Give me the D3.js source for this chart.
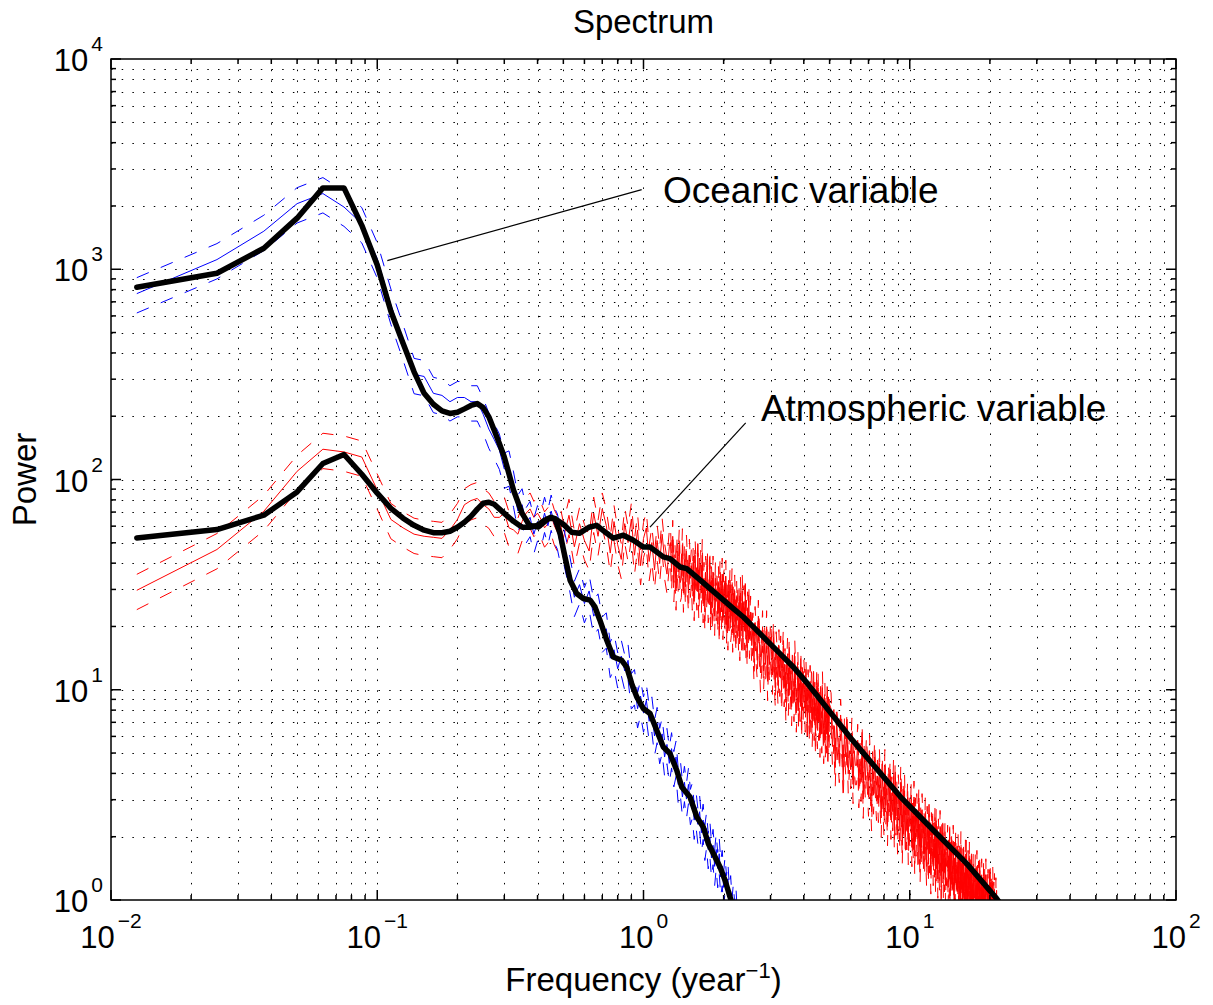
<!DOCTYPE html>
<html>
<head>
<meta charset="utf-8">
<script src="https://cdn.jsdelivr.net/npm/d3@7"></script>
<style>
  body { margin: 0; background: #fff; }
  svg text { font-family: "Liberation Sans", Arial, Helvetica, sans-serif; fill: #000; }
</style>
</head>
<body>
<svg id="chart" width="1213" height="1005"></svg>
<script>
const freqStep = 0.0125; // spectral resolution, 1/80 year^-1

// smoothed spectra (thick black lines): frequency in year^-1, power as log10
const oceSmoothF = [0.0125,0.025,0.0375,0.05,0.0625,0.075,0.0875,0.1,0.1125,0.125,0.1375,0.15,0.1625,0.175,0.1875,0.2,0.2125,0.225,0.2375,0.25,0.2625,0.275,0.2875,0.3,
  0.325,0.35,0.373,0.403,0.439,0.465,0.486,0.507,0.53,0.561,0.594,0.63,0.657,0.686,0.728,0.77,0.828,0.865,0.903,0.943,
  0.998,1.058,1.121,1.187,1.257,1.333,1.392,1.495,1.585,1.677,1.752,1.829,1.938,2.024,2.113,2.25];
const oceSmoothP = [2.914,2.981,3.100,3.243,3.387,3.387,3.209,3.02,2.80,2.648,2.512,2.410,2.358,2.326,2.314,2.320,2.336,2.352,2.361,2.342,2.298,2.234,2.171,2.107,
  1.949,1.839,1.782,1.774,1.814,1.814,1.743,1.632,1.521,1.458,1.434,1.426,1.394,1.331,1.235,1.156,1.140,1.108,1.029,0.966,
  0.911,0.887,0.807,0.728,0.697,0.617,0.538,0.490,0.395,0.347,0.268,0.221,0.157,0.094,0.015,-0.09];

const atmSmoothF = [0.0125,0.025,0.0375,0.05,0.0625,0.075,0.0875,0.1,0.1125,0.125,0.1375,0.15,0.1625,0.175,0.1875,0.2,0.2125,0.225,0.2375,0.25,0.2625,0.275,
  0.3,0.325,0.35,0.375,0.4,0.425,0.45,0.475,0.5,0.537,0.574,0.624,0.667,0.728,0.77,0.84,0.916,0.998,1.058,
  1.187,1.257,1.371,1.453,1.585,1.778,1.938,2.175,2.371,2.585,2.902,3.256,3.654,4.102,4.407,5.966,9.19,12.26,16.37,21.2,25];
const atmSmoothP = [1.722,1.762,1.830,1.941,2.076,2.119,2.025,1.935,1.863,1.816,1.782,1.759,1.747,1.747,1.754,1.773,1.797,1.825,1.859,1.887,1.892,1.882,
  1.839,1.801,1.773,1.773,1.782,1.806,1.820,1.806,1.787,1.749,1.744,1.773,1.782,1.744,1.721,1.735,1.711,1.679,1.679,
  1.632,1.624,1.584,1.576,1.536,1.481,1.441,1.386,1.346,1.299,1.235,1.172,1.108,1.034,0.985,0.774,0.493,0.332,0.173,0.007,-0.12];

// raw periodograms (thin lines), log10 power on the k * freqStep grid
const oceRawLo = [2.884,3.046,3.181,3.312,3.360,3.296,3.217,3.05,2.83,2.66, 2.50,2.49,2.41,2.40,2.37,2.39,2.39,2.37,2.37,2.31,
  2.24,2.19,2.14,2.05,2.06,1.96,1.85,1.88,1.79,1.82, 1.74,1.80,1.77,1.84,1.78,1.85,1.79,1.76,1.69,1.70]; // k = 1..40
const oceRawMid = [1.58,1.44,1.50,1.41,1.47,1.35,1.38,1.27,1.29,1.15, 1.19,1.10,1.16,1.09,1.14,1.00,1.02,0.91,0.97,0.89,
  0.95,0.85,0.89,0.78,0.84,0.74,0.79,0.68,0.74,0.65, 0.72,0.63,0.68,0.55,0.59,0.49,0.56,0.48,0.55,0.45,
  0.48,0.38,0.44,0.36,0.42,0.32,0.38,0.28,0.34,0.24, 0.30,0.20,0.26,0.16,0.24,0.15,0.22,0.11,0.16,0.06,
  0.13,0.04,0.10,-0.01,0.04,-0.07,0.00,-0.09,-0.02,-0.13]; // k = 42..180 by 2

const atmRawLo = [1.473,1.667,1.849,2.039,2.144,2.131,2.107,1.95,1.81,1.77, 1.74,1.73,1.725,1.72,1.76,1.81,1.88,1.90,1.91,1.88,
  1.86,1.82,1.82,1.84,1.77,1.76,1.74,1.80,1.84,1.86, 1.82,1.84,1.81,1.77,1.79,1.83,1.78,1.75,1.79,1.72]; // k = 1..40
const atmRawMid = [1.83,1.68,1.79,1.71, 1.66,1.84,1.73,1.86, 1.78,1.65,1.80,1.69, 1.62,1.79,1.70,1.81, 1.64,1.76,1.59,1.72,
  1.77,1.61,1.70,1.57, 1.71,1.60,1.74,1.62, 1.55,1.68]; // k = 42..100 by 2
const atmRawMid2 = [1.70,1.56,1.73,1.51,1.62,1.47,1.66,1.56,1.69,1.51, 1.53,1.69,1.46,1.62,1.49,1.66,1.55,1.46,1.64,1.53,
  1.59,1.47,1.61,1.42,1.64,1.53,1.47,1.65,1.43,1.58, 1.60,1.46,1.64,1.41,1.53,1.37,1.56,1.47,1.59,1.41,
  1.44,1.59,1.36,1.52,1.39,1.56,1.45,1.35,1.53,1.42, 1.48,1.36,1.51,1.31,1.54,1.43,1.37,1.55,1.33,1.48,
  1.50,1.36,1.54,1.31,1.43,1.28,1.47,1.37,1.50,1.32, 1.35,1.50,1.27,1.43,1.30,1.47,1.36,1.27,1.44,1.33,
  1.40,1.28,1.42,1.23,1.46,1.35,1.28,1.47,1.25,1.40, 1.42,1.28,1.46,1.24,1.35,1.20,1.39,1.30,1.42,1.24]; // k = 101..200
const atmRawHiA = [1.37,1.21,1.29,1.13,1.32,1.21,1.14,1.35,1.23,1.08, 1.17,1.30,1.09,1.22,1.12,1.30,1.04,1.22,1.12,1.25,
  1.18,1.07,1.25,1.11,1.01,1.20,1.12,1.02,1.21,1.06, 1.18,0.99,1.10,1.21,1.01,1.12,0.94,1.05,1.17,0.97,
  1.17,1.00,1.09,0.92,1.12,1.01,0.94,1.16,1.03,0.89, 0.98,1.11,0.90,1.03,0.94,1.11,0.86,1.03,0.94,1.07,
  1.00,0.89,1.07,0.93,0.84,1.02,0.95,0.84,1.04,0.89, 1.01,0.82,0.94,1.04,0.85,0.96,0.78,0.89,1.02,0.81,
  1.01,0.85,0.93,0.77,0.97,0.86,0.79,1.01,0.88,0.74, 0.83,0.96,0.76,0.88,0.79,0.97,0.72,0.89,0.80,0.93]; // k = 202..400 by 2
const atmRawHiB = [0.91,0.73,0.83,0.63,0.85,0.75,0.65,0.88,0.76,0.57,0.80,0.68,0.82,0.60,0.71,0.62,0.79,0.55,0.71,0.64,
  0.64,0.76,0.53,0.67,0.56,0.76,0.48,0.68,0.57,0.70,0.61,0.49,0.71,0.56,0.42,0.63,0.50,0.68,0.57,0.47,
  0.59,0.46,0.65,0.50,0.39,0.61,0.51,0.40,0.64,0.45,0.53,0.35,0.57,0.47,0.59,0.38,0.51,0.42,0.59,0.33,
  0.58,0.40,0.50,0.31,0.52,0.43,0.33,0.56,0.45,0.26,0.49,0.37,0.52,0.30,0.41,0.33,0.49,0.26,0.43,0.35,
  0.36,0.48,0.25,0.40,0.28,0.49,0.21,0.41,0.30,0.43,0.34,0.23,0.46,0.30,0.17,0.38,0.25,0.43,0.33,0.22,
  0.35,0.22,0.41,0.26,0.16,0.37,0.28,0.17,0.41,0.22,0.30,0.12,0.34,0.25,0.36,0.16,0.29,0.20,0.37,0.12,
  0.36,0.18,0.29,0.10,0.31,0.22,0.13,0.35,0.24,0.06,0.29,0.17,0.32,0.10,0.22,0.13,0.30,0.07,0.23,0.16,
  0.17,0.28,0.06,0.21,0.10,0.30,0.02,0.23,0.12,0.25,0.16,0.05,0.28,0.12,-0.01,0.20,0.08,0.25,0.15,0.05,
  0.18,0.04,0.24,0.09,-0.02,0.20,0.11,0.00,0.25,0.05,0.13,-0.04,0.18,0.08,0.20,0.00,0.13,0.04,0.21,-0.04,
  0.21,0.03,0.13,-0.06,0.16,0.07,-0.03,0.20,0.09,-0.09,0.13,0.02,0.17,-0.05,0.07,-0.02,0.15,-0.08,0.09,0.01,
  0.02,0.14,-0.08,0.07,-0.05,0.16,-0.12,0.09,-0.03,0.11,0.02,-0.09,0.14,-0.02,-0.15,0.06,-0.06,0.12,0.01,-0.09,
  0.04,-0.09,0.11,-0.05,-0.15,0.07,-0.02,-0.13,0.12,-0.08,0.00,-0.17,0.05,-0.04,0.07,-0.13,0.00,-0.08,0.09,-0.17,
  0.08,-0.10,0.01,-0.18,0.04,-0.06,-0.15,0.08,-0.03,-0.21,0.01,-0.10,0.05,-0.17,-0.05,-0.14,0.03,-0.20,-0.03,-0.10]; // k = 405..1700 by 5

// dashed confidence lines sit at fixed log10 offsets from the raw periodogram
const ciUpper = 0.076, ciLower = -0.092;

const xDomain = [1e-2, 1e2], yDomain = [1, 1e4];

const annoText = ["Oceanic variable", "Atmospheric variable"];
const annoAt = [[1.184, 2066], [2.76, 190]];
const annoFrom = [[0.1091, 1100], [1.058, 59.4]];
const annoTo = [[0.9845, 2393], [2.42, 186]];

let svg = d3.select("#chart");

let x = d3.scaleLog().domain(xDomain).range([111, 1176]),
y = d3.scaleLog().domain(yDomain).range([900, 59]);

let [x0, x1] = x.range(), [y0, y1] = y.range();

function isMajor(v) {
  let l = Math.log10(v);
  return Math.abs(l - Math.round(l)) < 1e-6;
}

function rawSeries(vals, k0, dk) {
  return vals.map((v, i) => ({ f: (k0 + i * dk) * freqStep, lp: v }));
}

function smoothSeries(fs, ps) {
  return fs.map((f, i) => ({ f: f, lp: ps[i] }));
}

let atmRaw = [].concat(rawSeries(atmRawLo, 1, 1), rawSeries(atmRawMid, 42, 2), rawSeries(atmRawMid2, 101, 1),
  rawSeries(atmRawHiA, 202, 2), rawSeries(atmRawHiB, 405, 5)),
oceRaw = [].concat(rawSeries(oceRawLo, 1, 1), rawSeries(oceRawMid, 42, 2));

function lineAt(off) {
  return d3.line()
  .x(d => x(d.f))
  .y(d => y(Math.pow(10, d.lp + off)));
}

svg.append("defs").append("clipPath").attr("id", "plotClip")
.append("rect").attr("x", x0).attr("y", y1).attr("width", x1 - x0).attr("height", y0 - y1);

// dotted grid, major and minor
let xTicks = x.ticks(), yTicks = y.ticks();

let grid = svg.append("g")
.attr("stroke", "#000")
.attr("stroke-width", 1)
.attr("stroke-dasharray", "1.5,9.2");

grid.selectAll(".gx")
.data(xTicks.filter(v => v > xDomain[0] && v < xDomain[1]))
.join("line")
.attr("x1", d => Math.round(x(d)) + 0.5).attr("x2", d => Math.round(x(d)) + 0.5)
.attr("y1", y1).attr("y2", y0);

grid.selectAll(".gy")
.data(yTicks.filter(v => v > yDomain[0] && v < yDomain[1]))
.join("line")
.attr("y1", d => Math.round(y(d)) + 0.5).attr("y2", d => Math.round(y(d)) + 0.5)
.attr("x1", x0).attr("x2", x1);

// spectra
let plot = svg.append("g").attr("clip-path", "url(#plotClip)").attr("fill", "none");

function drawBand(data, color) {
  plot.append("path").attr("d", lineAt(ciUpper)(data))
  .attr("stroke", color).attr("stroke-width", 1).attr("stroke-dasharray", "13,13");
  plot.append("path").attr("d", lineAt(ciLower)(data))
  .attr("stroke", color).attr("stroke-width", 1).attr("stroke-dasharray", "13,13");
  plot.append("path").attr("d", lineAt(0)(data))
  .attr("stroke", color).attr("stroke-width", 1);
}

drawBand(atmRaw, "#ff0000");
drawBand(oceRaw, "#0000ff");

[smoothSeries(atmSmoothF, atmSmoothP), smoothSeries(oceSmoothF, oceSmoothP)].forEach(function(s) {
  plot.append("path").attr("d", lineAt(0)(s))
  .attr("stroke", "#000").attr("stroke-width", 5.5)
  .attr("stroke-linejoin", "round").attr("stroke-linecap", "round");
});

// box and inward ticks on all four sides
let axes = svg.append("g").attr("stroke", "#000").attr("stroke-width", 1.5);

axes.append("rect").attr("x", x0).attr("y", y1).attr("width", x1 - x0).attr("height", y0 - y1).attr("fill", "none");

xTicks.forEach(function(v) {
  let len = isMajor(v) ? 10 : 5, px = x(v);
  axes.append("line").attr("x1", px).attr("x2", px).attr("y1", y0).attr("y2", y0 - len);
  axes.append("line").attr("x1", px).attr("x2", px).attr("y1", y1).attr("y2", y1 + len);
});

yTicks.forEach(function(v) {
  let len = isMajor(v) ? 10 : 5, py = y(v);
  axes.append("line").attr("y1", py).attr("y2", py).attr("x1", x0).attr("x2", x0 + len);
  axes.append("line").attr("y1", py).attr("y2", py).attr("x1", x1).attr("x2", x1 - len);
});

function powLabel(sel, v) {
  let e = Math.round(Math.log10(v));
  sel.append("tspan").text("10");
  sel.append("tspan").attr("dx", 3).attr("dy", -20).attr("font-size", 21).text(e < 0 ? "\u2212" + (-e) : e);
}

svg.append("g").selectAll("text")
.data(xTicks.filter(isMajor))
.join("text")
.attr("x", d => x(d)).attr("y", y0 + 48)
.attr("text-anchor", "middle")
.attr("font-size", 31)
.each(function(d) { powLabel(d3.select(this), d); });

svg.append("g").selectAll("text")
.data(yTicks.filter(isMajor))
.join("text")
.attr("x", x0 - 8).attr("y", d => y(d) + 12)
.attr("text-anchor", "end")
.attr("font-size", 31)
.each(function(d) { powLabel(d3.select(this), d); });

// titles
svg.append("text").attr("x", (x0 + x1) / 2).attr("y", 33)
.attr("text-anchor", "middle").attr("font-size", 33).text("Spectrum");

let xl = svg.append("text").attr("x", (x0 + x1) / 2).attr("y", 991)
.attr("text-anchor", "middle").attr("font-size", 33);
xl.append("tspan").text("Frequency (year");
xl.append("tspan").attr("dy", -13).attr("font-size", 22).text("\u22121");
xl.append("tspan").attr("dy", 13).text(")");

svg.append("text")
.attr("transform", "translate(36," + ((y0 + y1) / 2) + ") rotate(-90)")
.attr("text-anchor", "middle").attr("font-size", 33).text("Power");

// annotations
annoText.forEach(function(t, i) {
  svg.append("line")
  .attr("x1", x(annoFrom[i][0])).attr("y1", y(annoFrom[i][1]))
  .attr("x2", x(annoTo[i][0])).attr("y2", y(annoTo[i][1]))
  .attr("stroke", "#000").attr("stroke-width", 1.2);
  svg.append("text")
  .attr("x", x(annoAt[i][0])).attr("y", y(annoAt[i][1]))
  .attr("font-size", 37).text(t);
});
</script>
</body>
</html>
